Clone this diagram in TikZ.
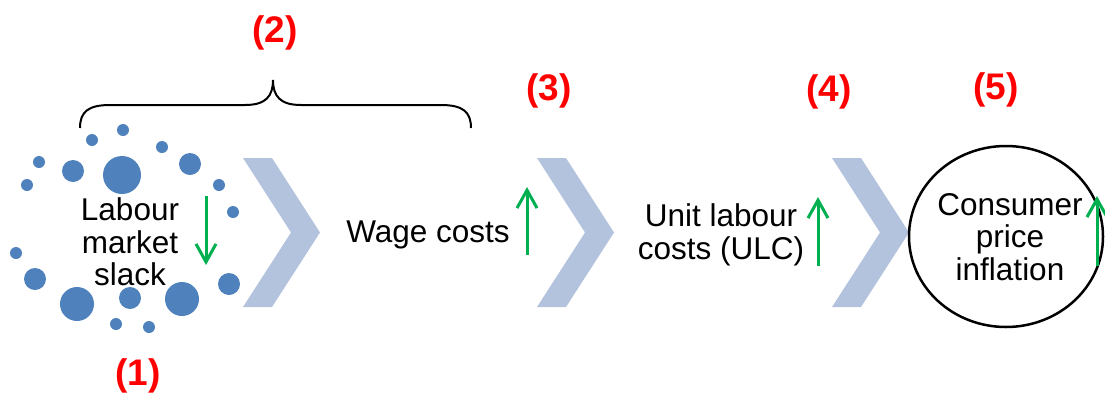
\documentclass[tikz,border=0pt]{standalone}
\usepackage{fontspec}
\setmainfont{Liberation Sans}
\usetikzlibrary{arrows.meta,shapes.geometric}
\definecolor{dotblue}{RGB}{79,129,189}
\definecolor{chevblue}{RGB}{179,195,222}
\definecolor{upgreen}{RGB}{0,176,80}
\definecolor{numred}{RGB}{255,0,0}
\tikzset{
  body/.style={font=\fontsize{31.5}{32.5}\selectfont, align=center, inner sep=0pt},
  numlabel/.style={font=\fontsize{37}{40}\selectfont\bfseries, text=numred, inner sep=0pt},
  trend/.style={draw=upgreen, line width=3pt, -{Straight Barb[length=18pt,width=20pt,line width=3pt]}},
  chevron/.style={fill=chevblue, draw=none},
  dot/.style={fill=dotblue, draw=none},
}
\begin{document}
\begin{tikzpicture}[x=1pt,y=-1pt]
\useasboundingbox (0,0) rectangle (1105,397);

% cloud of dots around the first stage
\foreach \cx/\cy/\r in {123/130/6, 92/140/6, 162/147/6, 39/162/6, 73/171/11,
  122/175/19, 190/164/11, 27/185/6, 219/185/6, 233/212/6, 16/253/6,
  35/279/11, 229/284/11, 77/304/17, 130/298/11, 182/299/17, 116/324/6, 149/327/6}
  \fill[dot] (\cx,\cy) circle (\r);

% chevrons between the stages
\foreach \x in {243,537,832}
  \fill[chevron] (\x,158) -- ++(29,0) -- ++(48,74.5) -- ++(-48,74.5)
    -- ++(-29,0) -- ++(48,-74.5) -- cycle;

% stage texts
\node[body] (slack) at (130,242) {Labour\\market\\slack};
\node[body, anchor=base] (wage) at (428,242) {Wage costs};
\node[body] (ulc) at (721,235) {Unit labour\\costs (ULC)};
\node[draw, line width=2.5pt, ellipse, minimum width=194pt, minimum height=181pt,
  inner sep=0pt] (cpiring) at (1006,236.5) {};
\node[body] (cpi) at (1010,237) {Consumer\\price\\inflation};

% direction arrows
\coordinate (s1) at (206,196); \coordinate (s2) at (206,265);
\coordinate (w1) at (527,255); \coordinate (w2) at (527,187);
\coordinate (u1) at (818,266); \coordinate (u2) at (818,197);
\coordinate (c1) at (1097,266); \coordinate (c2) at (1097,196);
\draw[trend] (s1) -- (s2);
\draw[trend] (w1) -- (w2);
\draw[trend] (u1) -- (u2);
\draw[trend] (c1) -- (c2);

% brace over stages one and two
\coordinate (bl) at (80,128);
\coordinate (br) at (471,128);
\coordinate (bt) at (273,80);
\draw[line width=2pt] (bl) .. controls (80,112) and (88,105) .. (110,105)
  -- (245,105) .. controls (266,105) and (273,96) .. (bt)
  .. controls (273,96) and (280,105) .. (301,105)
  -- (441,105) .. controls (463,105) and (471,112) .. (br);

% step numbers
\node[numlabel] (n1) at (138,376) {(1)};
\node[numlabel] (n2) at (275,33) {(2)};
\node[numlabel] (n3) at (549,91) {(3)};
\node[numlabel] (n4) at (829,92) {(4)};
\node[numlabel] (n5) at (996,90) {(5)};
\end{tikzpicture}
\end{document}
